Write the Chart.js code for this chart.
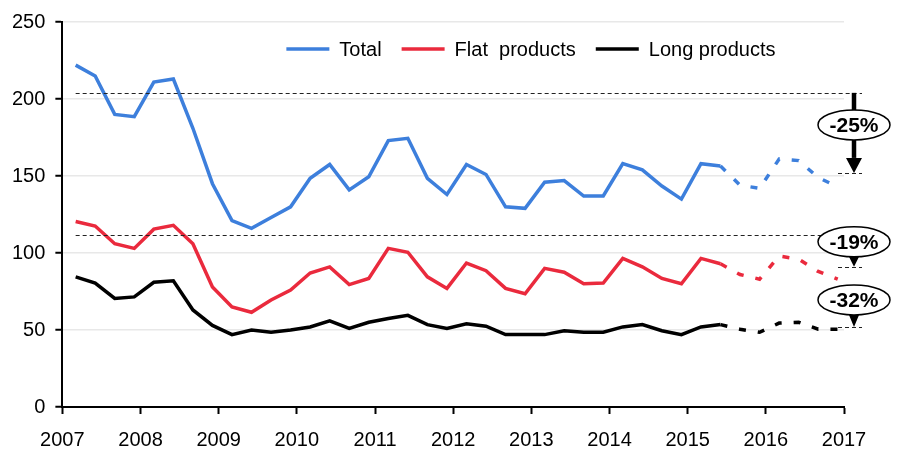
<!DOCTYPE html>
<html>
<head>
<meta charset="utf-8">
<script src="https://cdn.jsdelivr.net/npm/chart.js@4"></script>
<style>
  html, body { margin: 0; padding: 0; background: #fff; }
  canvas { display: block; }
</style>
</head>
<body>
<canvas id="chart" width="903" height="455"></canvas>
<script>
// quarterly data, forecast from 2015Q3 on
const quarters = [
  '2007Q1', '2007Q2', '2007Q3', '2007Q4', '2008Q1', '2008Q2', '2008Q3', '2008Q4',
  '2009Q1', '2009Q2', '2009Q3', '2009Q4', '2010Q1', '2010Q2', '2010Q3', '2010Q4',
  '2011Q1', '2011Q2', '2011Q3', '2011Q4', '2012Q1', '2012Q2', '2012Q3', '2012Q4',
  '2013Q1', '2013Q2', '2013Q3', '2013Q4', '2014Q1', '2014Q2', '2014Q3', '2014Q4',
  '2015Q1', '2015Q2', '2015Q3', '2015Q4', '2016Q1', '2016Q2', '2016Q3', '2016Q4'
];
const total = [
  222, 215, 190, 188.5, 211, 213, 181, 145, 121, 116, 123, 130, 148.5, 157.5, 141, 149.5,
  173, 174.5, 148.5, 138, 157.5, 151, 130, 129, 146, 147, 137, 137, 158, 154, 143.5, 135,
  158, 156.5, 144, 142, 161, 160, 149, 143
];
const flat = [
  120.5, 117.5, 106, 103, 115.5, 118, 106, 78, 65, 61.5, 69.5, 76, 87, 91, 79.5, 83.5,
  103, 100.5, 84.5, 77, 93.5, 88.5, 77, 73.5, 90, 87.5, 80, 80.5, 96.5, 91, 83.5, 80,
  96.5, 93, 86, 83, 98, 96, 88, 83
];
const long = [
  84.5, 80.5, 70.5, 71.5, 81, 82, 63, 53, 47, 50, 48.5, 50, 52, 56, 51, 55,
  57.5, 59.5, 53.5, 51, 54, 52.5, 47, 47, 47, 49.5, 48.5, 48.5, 52, 53.5, 49.5, 47,
  52, 53.5, 50.5, 48.5, 54.5, 55, 50.5, 50.5
];
const lastActual = '2015Q2';

const seriesNames = ['Total', 'Flat  products', 'Long products'];
const seriesColors = ['#3d7fdc', '#ea2a3d', '#000000'];

// reference levels and change labels on the right
const refStart = [204, 112];
const refEnd = [152, 91, 52];
const changeLabels = ['-25%', '-19%', '-32%'];

function quarterPos(q) {
  const yr = +q.slice(0, 4), n = +q.slice(5);
  return yr + 0.17 + (n - 1) * 0.25;
}

const splitIdx = quarters.indexOf(lastActual);

function makeSet(label, values, color) {
  return {
    label: label,
    data: quarters.map((q, i) => ({ x: quarterPos(q), y: values[i] })),
    borderColor: color,
    backgroundColor: color,
    borderWidth: 3.5,
    pointRadius: 0,
    tension: 0,
    segment: {
      borderDash: ctx => ctx.p0DataIndex >= splitIdx ? [7, 12] : undefined
    }
  };
}

Chart.defaults.font.family = "'Liberation Sans', Arial, sans-serif";
Chart.defaults.color = '#000';

const badgeOffset = [48, 25, 27];

const annot = {
  id: 'annot',
  afterDatasetsDraw(chart) {
    const { ctx, chartArea: a, scales: { x, y } } = chart;
    const x0 = x.getPixelForValue(quarterPos(quarters[0]));
    const right = a.right + 18;
    const ax = a.right + 10;
    ctx.save();
    ctx.strokeStyle = '#222';
    ctx.lineWidth = 1;
    ctx.setLineDash([4, 3]);
    refStart.forEach(v => {
      const py = Math.round(y.getPixelForValue(v)) + 0.5;
      ctx.beginPath(); ctx.moveTo(x0, py); ctx.lineTo(right, py); ctx.stroke();
    });
    refEnd.forEach(v => {
      const py = Math.round(y.getPixelForValue(v)) + 0.5;
      ctx.beginPath(); ctx.moveTo(a.right - 6, py); ctx.lineTo(right, py); ctx.stroke();
    });
    ctx.setLineDash([]);

    changeLabels.forEach((t, i) => {
      const tip = y.getPixelForValue(refEnd[i]);
      const cy = tip - badgeOffset[i];
      const rx = 36, ry = 15;
      const big = i === 0;
      const headLen = big ? 15 : tip - (cy + ry);
      const headW = big ? 8 : 5;
      ctx.fillStyle = '#000';
      ctx.strokeStyle = '#000';
      if (big) {
        ctx.lineWidth = 4.5;
        ctx.beginPath();
        ctx.moveTo(ax, y.getPixelForValue(refStart[i]));
        ctx.lineTo(ax, tip - headLen);
        ctx.stroke();
      }
      ctx.beginPath();
      ctx.moveTo(ax - headW, tip - headLen);
      ctx.lineTo(ax + headW, tip - headLen);
      ctx.lineTo(ax, tip);
      ctx.closePath();
      ctx.fill();

      ctx.beginPath();
      ctx.ellipse(ax, cy, rx, ry, 0, 0, Math.PI * 2);
      ctx.fillStyle = '#fff';
      ctx.fill();
      ctx.lineWidth = 1.5;
      ctx.stroke();

      ctx.fillStyle = '#000';
      ctx.font = "bold 21px 'Liberation Sans', Arial, sans-serif";
      ctx.textAlign = 'center';
      ctx.textBaseline = 'middle';
      ctx.fillText(t, ax, cy + 1);
    });

    // legend inside the plot
    let lx = a.left + 224;
    const ly = 49;
    ctx.font = "20px 'Liberation Sans', Arial, sans-serif";
    ctx.textAlign = 'left';
    ctx.textBaseline = 'middle';
    chart.data.datasets.forEach(ds => {
      ctx.strokeStyle = ds.borderColor;
      ctx.lineWidth = 3.5;
      ctx.beginPath(); ctx.moveTo(lx, ly); ctx.lineTo(lx + 43, ly); ctx.stroke();
      lx += 53;
      ctx.fillStyle = '#000';
      ctx.fillText(ds.label, lx, ly + 1);
      lx += ctx.measureText(ds.label).width + 20;
    });
    ctx.restore();
  }
};

new Chart(document.getElementById('chart'), {
  type: 'line',
  data: {
    datasets: [
      makeSet(seriesNames[0], total, seriesColors[0]),
      makeSet(seriesNames[1], flat, seriesColors[1]),
      makeSet(seriesNames[2], long, seriesColors[2])
    ]
  },
  options: {
    responsive: false,
    animation: false,
    devicePixelRatio: 1,
    layout: { padding: { left: 2, right: 59, top: 21, bottom: 0 } },
    plugins: { legend: { display: false }, tooltip: { enabled: false } },
    scales: {
      x: {
        type: 'linear',
        min: 2007,
        max: 2017,
        afterFit: scale => { scale.height = 48; },
        ticks: {
          stepSize: 1,
          autoSkip: false,
          maxRotation: 0,
          padding: 14,
          color: '#000',
          font: { size: 20 },
          callback: v => String(v)
        },
        grid: { drawOnChartArea: false, tickColor: '#000', tickWidth: 2, tickLength: 7 },
        border: { color: '#000', width: 2 }
      },
      y: {
        min: 0,
        max: 250,
        ticks: { stepSize: 50, padding: 10, color: '#000', font: { size: 20 } },
        grid: { color: '#e8e8e8', lineWidth: 1.5, tickColor: '#000', tickWidth: 2, tickLength: 7 },
        border: { color: '#000', width: 2 }
      }
    }
  },
  plugins: [annot]
});
</script>
</body>
</html>
